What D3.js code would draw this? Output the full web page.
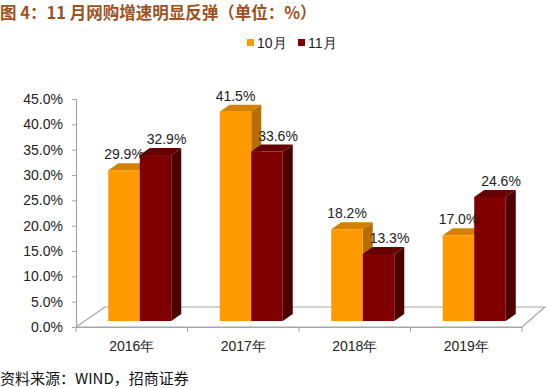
<!DOCTYPE html>
<html>
<head>
<meta charset="utf-8">
<script src="https://cdn.jsdelivr.net/npm/d3@7"></script>
<style>
  body { margin: 0; background: #fff; }
  svg text { font-family: "Liberation Sans", Arial, sans-serif; }
  .cjk { font-family: "Noto Sans CJK SC", sans-serif; }
</style>
</head>
<body>
<div id="chart"></div>
<script>
'use strict';

// data
var years = ["2016年", "2017年", "2018年", "2019年"];
var series = ["10月", "11月"];
var oct = [29.9, 41.5, 18.2, 17.0];
var nov = [32.9, 33.6, 13.3, 24.6];
var yTicks = [0, 5, 10, 15, 20, 25, 30, 35, 40, 45];

var W = 550, H = 388;
var colors = {
    "10月": { front: "#FF9900", top: "#D48000", side: "#B96D00" },
    "11月": { front: "#800000", top: "#640000", side: "#4C0000" }
};

var svg = d3.select("#chart").append("svg")
    .attr("width", W)
    .attr("height", H);

// title + source
svg.append("text")
    .attr("class", "cjk")
    .attr("x", 0).attr("y", 19)
    .attr("font-size", 16.5)
    .attr("font-weight", "bold")
    .attr("fill", "#A0501E")
    .text("图 4：11 月网购增速明显反弹（单位：%）");

svg.append("text")
    .attr("class", "cjk")
    .attr("x", 0).attr("y", 384)
    .attr("font-size", 15)
    .attr("fill", "#111")
    .text("资料来源：WIND，招商证券");

// scales
var x = d3.scaleBand().domain(years).range([76, 522]);
var y = d3.scaleLinear().domain([0, 45]).range([327, 99]);
var yBar = d3.scaleLinear().domain([0, 45]).range([321, 94]);

var floorDx = 29, floorDy = -20;   // floor depth
var barShift = { dx: 8, dy: 0 };   // bar front plane offset
var depth = { dx: 10, dy: -7 };    // bar thickness
var groupFrac = 0.565;

var inner = d3.scaleBand().domain(series)
    .range([x.bandwidth() * (1 - groupFrac) / 2, x.bandwidth() * (1 + groupFrac) / 2]);

// floor
var x0 = x.range()[0], x1 = x.range()[1], fy = y(0);
var floor = svg.append("g")
    .attr("fill", "none")
    .attr("stroke", "#A6A6A6")
    .attr("stroke-width", 1.2);
floor.append("path")
    .attr("d", "M" + x0 + "," + fy + "L" + (x0 + floorDx) + "," + (fy + floorDy) +
        "L" + (x1 + floorDx - 6) + "," + (fy + floorDy) + "L" + x1 + "," + fy + "Z");

// y axis
var yAxis = d3.axisLeft(y)
    .tickValues(yTicks)
    .tickSize(4)
    .tickPadding(9)
    .tickFormat(function(d) { return d.toFixed(1) + "%"; });
var gy = svg.append("g")
    .attr("transform", "translate(" + x0 + ",0)")
    .call(yAxis);
gy.select(".domain").attr("stroke", "#A6A6A6").attr("stroke-width", 1.2);
gy.selectAll(".tick line").attr("stroke", "#A6A6A6");
gy.selectAll(".tick text")
    .attr("font-size", 14)
    .attr("fill", "#222")
    .style("font-family", "'Liberation Sans', Arial, sans-serif");

// x axis
var xAxis = d3.axisBottom(x).tickSize(0).tickPadding(14);
var gx = svg.append("g")
    .attr("transform", "translate(0," + fy + ")")
    .call(xAxis);
gx.select(".domain").attr("stroke", "#A6A6A6").attr("stroke-width", 1.2);
gx.selectAll(".tick text")
    .attr("font-size", 14)
    .attr("fill", "#222")
    .style("font-family", "'Liberation Sans', Arial, sans-serif");
gx.selectAll(".sep")
    .data(years.concat(["end"]))
    .enter().append("line")
    .attr("class", "sep")
    .attr("x1", function(d, i) { return i < years.length ? x(d) : x1; })
    .attr("x2", function(d, i) { return i < years.length ? x(d) : x1; })
    .attr("y1", 0).attr("y2", 5)
    .attr("stroke", "#A6A6A6");

// bars
var data = [];
years.forEach(function(yr, i) {
    data.push({ year: yr, s: "10月", v: oct[i] });
    data.push({ year: yr, s: "11月", v: nov[i] });
});

function pts(a) {
    return a.map(function(p) { return p.join(","); }).join(" ");
}

var bars = svg.append("g").selectAll("g.bar")
    .data(data)
    .enter().append("g")
    .attr("class", "bar");

bars.each(function(d) {
    var g = d3.select(this);
    var l = x(d.year) + inner(d.s) + barShift.dx;
    var r = l + inner.bandwidth();
    var b = yBar(0);
    var t = yBar(d.v);
    var c = colors[d.s];
    // side
    g.append("polygon")
        .attr("points", pts([[r, b], [r + depth.dx, b + depth.dy], [r + depth.dx, t + depth.dy], [r, t]]))
        .attr("fill", c.side);
    // top
    g.append("polygon")
        .attr("points", pts([[l, t], [l + depth.dx, t + depth.dy], [r + depth.dx, t + depth.dy], [r, t]]))
        .attr("fill", c.top);
    // front
    g.append("rect")
        .attr("x", l).attr("y", t)
        .attr("width", r - l).attr("height", b - t)
        .attr("fill", c.front);
});

// value labels
svg.append("g").selectAll("text.val")
    .data(data)
    .enter().append("text")
    .attr("class", "val")
    .attr("x", function(d) {
        return x(d.year) + inner(d.s) + barShift.dx + inner.bandwidth() / 2 + (d.s === "11月" ? 11 : 0);
    })
    .attr("y", function(d) { return yBar(d.v) - 11; })
    .attr("text-anchor", "middle")
    .attr("font-size", 14)
    .attr("fill", "#222")
    .text(function(d) { return d.v.toFixed(1) + "%"; });

// legend
var legend = svg.append("g").selectAll("g.leg")
    .data(series)
    .enter().append("g")
    .attr("class", "leg")
    .attr("transform", function(d, i) { return "translate(" + (247 + i * 51) + ",39)"; });
legend.append("rect")
    .attr("width", 7).attr("height", 7)
    .attr("fill", function(d) { return colors[d].front; });
legend.append("text")
    .attr("x", 10).attr("y", 9)
    .attr("font-size", 14)
    .attr("fill", "#222")
    .text(function(d) { return d; });
</script>
</body>
</html>
